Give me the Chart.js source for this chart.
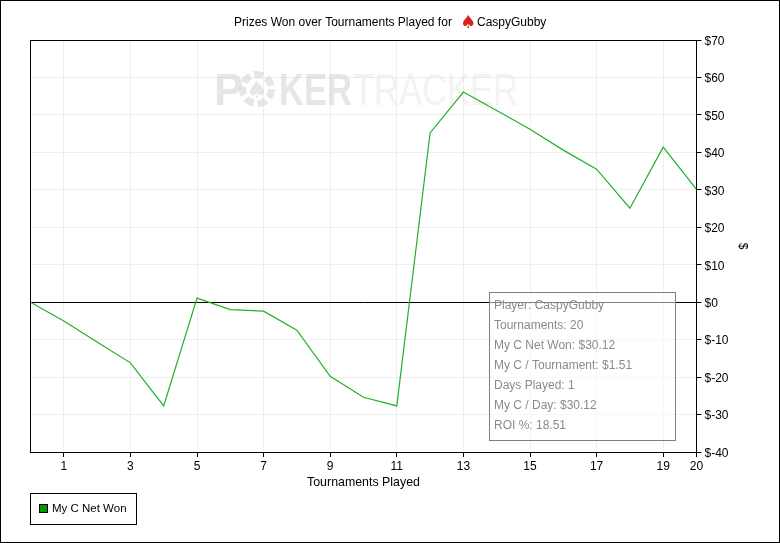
<!DOCTYPE html>
<html>
<head>
<meta charset="utf-8">
<script src="https://cdn.jsdelivr.net/npm/chart.js@4"></script>
<style>
  html, body { margin: 0; padding: 0; background: #fff; }
  #wrap { width: 780px; height: 543px; }
</style>
</head>
<body>
<div id="wrap"><canvas id="prizeChart" width="780" height="543"></canvas></div>
<script>
const tournaments = [0, 1, 2, 3, 4, 5, 6, 7, 8, 9, 10, 11, 12, 13, 14, 15, 16, 17, 18, 19, 20];
const netWon = [0, -5, -10.6, -16.2, -27.7, 1.1, -2, -2.4, -7.5, -19.8, -25.4, -27.7, 45.2, 56.1, 51.2, 46.2, 40.6, 35.5, 25.1, 41.4, 30.12];
const xTicks = [0, 1, 3, 5, 7, 9, 11, 13, 15, 17, 19, 20];
const xLabelled = [1, 3, 5, 7, 9, 11, 13, 15, 17, 19, 20];
const infoLines = [
  'Player: CaspyGubby',
  'Tournaments: 20',
  'My C Net Won: $30.12',
  'My C / Tournament: $1.51',
  'Days Played: 1',
  'My C / Day: $30.12',
  'ROI %: 18.51'
];
const titleStart = 'Prizes Won over Tournaments Played for';
const titleName = 'CaspyGubby';
const seriesName = 'My C Net Won';

const FONT = '"Liberation Sans", Arial, sans-serif';

// watermark sits behind the line
const watermark = {
  id: 'watermark',
  beforeDatasetsDraw(chart) {
    const c = chart.ctx;
    c.save();
    c.textBaseline = 'alphabetic';
    c.textAlign = 'left';
    c.font = 'bold 44px ' + FONT;
    c.fillStyle = 'rgba(205,205,205,0.5)';
    c.fillText('P', 214, 105);
    c.fillText('KER', 279, 105, 73);
    // poker chip standing in for the O
    c.strokeStyle = 'rgba(205,205,205,0.5)';
    c.lineWidth = 7;
    c.setLineDash([9, 4]);
    c.beginPath();
    c.arc(257, 89, 14.5, 0, Math.PI * 2);
    c.stroke();
    c.setLineDash([]);
    c.font = '24px "DejaVu Sans"';
    c.textAlign = 'center';
    c.fillText('\u2660', 257, 98);
    c.textAlign = 'left';
    c.font = '44px ' + FONT;
    c.fillStyle = 'rgba(225,225,225,0.4)';
    c.fillText('TRACKER', 353, 105, 165);
    c.restore();
  }
};

// frame, title, info box, legend
const decorations = {
  id: 'decorations',
  afterDraw(chart) {
    const c = chart.ctx;
    const a = chart.chartArea;
    const left = Math.floor(a.left) + 0.5;
    const top = Math.floor(a.top) + 0.5;
    c.save();
    c.strokeStyle = '#000';
    c.lineWidth = 1;
    c.strokeRect(0.5, 0.5, 779, 542);
    c.strokeRect(left, top, Math.floor(a.right) + 0.5 - left, Math.floor(a.bottom) + 0.5 - top);

    c.font = '12px ' + FONT;
    c.textBaseline = 'middle';
    c.textAlign = 'left';
    c.fillStyle = '#000';
    c.fillText(titleStart, 234, 22.5);
    c.fillText(titleName, 477, 22.5);
    c.fillStyle = '#d8201c';
    c.font = '18px "DejaVu Sans"';
    c.fillText('\u2660', 460, 23);

    // info box, see-through like the original
    c.fillStyle = 'rgba(255,255,255,0.5)';
    c.fillRect(490, 293, 186, 148);
    c.strokeStyle = '#808080';
    c.strokeRect(489.5, 292.5, 186, 148);
    c.font = '12px ' + FONT;
    c.fillStyle = '#8a8a8a';
    infoLines.forEach((line, i) => c.fillText(line, 494, 305.5 + i * 20));

    // legend
    c.strokeStyle = '#000';
    c.strokeRect(30.5, 493.5, 106, 31);
    c.fillStyle = '#009900';
    c.fillRect(39.5, 504.5, 8, 8);
    c.strokeRect(39.5, 504.5, 8, 8);
    c.fillStyle = '#000';
    c.font = '11.5px ' + FONT;
    c.fillText(seriesName, 52, 509);
    c.restore();
  }
};

new Chart(document.getElementById('prizeChart').getContext('2d'), {
  type: 'line',
  data: {
    labels: tournaments,
    datasets: [{
      label: seriesName,
      data: tournaments.map((t, i) => ({ x: t, y: netWon[i] })),
      borderColor: '#22b02a',
      borderWidth: 1.2,
      pointRadius: 0,
      tension: 0,
      fill: false,
      clip: true
    }]
  },
  options: {
    responsive: false,
    animation: false,
    layout: { padding: { left: 30.5, top: 40, right: 30.5, bottom: 53 } },
    plugins: {
      legend: { display: false },
      title: { display: false },
      tooltip: { enabled: false }
    },
    scales: {
      x: {
        type: 'linear',
        min: 0,
        max: 20,
        afterBuildTicks(axis) { axis.ticks = xTicks.map(v => ({ value: v })); },
        afterFit(axis) { axis.height = 38; },
        border: { color: '#000' },
        grid: {
          color: ctx => (ctx.tick && ctx.tick.value === 20 ? '#000' : '#eeeeee'),
          tickColor: ctx => (ctx.tick && ctx.tick.value === 0 ? 'rgba(0,0,0,0)' : '#000'),
          tickLength: 5,
          lineWidth: 1
        },
        ticks: {
          color: '#000',
          font: { family: FONT, size: 12 },
          padding: 2,
          maxRotation: 0,
          autoSkip: false,
          callback: v => (xLabelled.includes(v) ? String(v) : '')
        },
        title: {
          display: true,
          text: 'Tournaments Played',
          color: '#000',
          font: { family: FONT, size: 12.4 },
          padding: { top: 0, bottom: 0 }
        }
      },
      y: {
        position: 'right',
        min: -40,
        max: 70,
        afterFit(axis) { axis.width = 53; },
        border: { color: '#000' },
        grid: {
          color: ctx => (ctx.tick && ctx.tick.value === 0 ? '#000' : '#eeeeee'),
          tickColor: '#000',
          tickLength: 5,
          lineWidth: 1
        },
        ticks: {
          color: '#000',
          stepSize: 10,
          font: { family: FONT, size: 12 },
          padding: 3,
          labelOffset: 1.5,
          callback: v => (v < 0 ? '$-' + Math.abs(v) : '$' + v)
        },
        title: {
          display: true,
          text: '$',
          color: '#000',
          font: { family: FONT, size: 12 },
          padding: 0
        }
      }
    }
  },
  plugins: [watermark, decorations]
});
</script>
</body>
</html>
